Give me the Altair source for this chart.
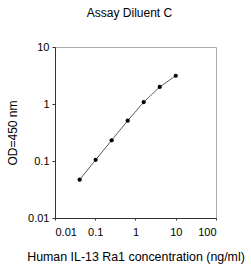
import altair as alt
import pandas as pd

conc = [0.041, 0.1024, 0.256, 0.64, 1.6, 4.0, 10.0]
od = [0.047, 0.105, 0.231, 0.51, 1.08, 1.99, 3.13]

df = pd.DataFrame({"conc": conc, "od": od})

FONT = "Liberation Sans"

x = alt.X("conc:Q", scale=alt.Scale(type="log", domain=[0.01, 100]),
          axis=alt.Axis(title="Human IL-13 Ra1 concentration (ng/ml)", values=[0.01, 0.1, 1, 10, 100],
                        format="~g", grid=False, tickSize=2, labelPadding=6, titlePadding=13,
                        domainColor="#333", tickColor="#333", labelColor="#000", titleColor="#000",
                        labelFontSize=11, titleFontSize=12.4, titleFontWeight="normal",
                        labelFont=FONT, titleFont=FONT))
y = alt.Y("od:Q", scale=alt.Scale(type="log", domain=[0.01, 10]),
          axis=alt.Axis(title="OD=450 nm", values=[0.01, 0.1, 1, 10], format="~g", grid=False,
                        tickSize=3, labelPadding=3, titlePadding=8,
                        domainColor="#333", tickColor="#333", labelColor="#000", titleColor="#000",
                        labelFontSize=11, titleFontSize=12, titleFontWeight="normal",
                        labelFont=FONT, titleFont=FONT))

line = alt.Chart(df).mark_line(color="#333", strokeWidth=0.8).encode(x=x, y=y)
pts = alt.Chart(df).mark_point(filled=True, color="#000", size=18, opacity=1).encode(x=x, y=y)

chart = alt.layer(line, pts).properties(
    width=161, height=171,
    title=alt.TitleParams("Assay Diluent C", fontSize=12, fontWeight="normal", font=FONT,
                          color="#000", offset=21, dx=-6),
    autosize=alt.AutoSizeParams(type="none"),
    padding={"left": 55, "top": 47, "right": 35, "bottom": 58},
).configure_view(stroke="#aaa", strokeWidth=1)

chart.save("out.html", embed_options={"renderer": "svg", "actions": False})
